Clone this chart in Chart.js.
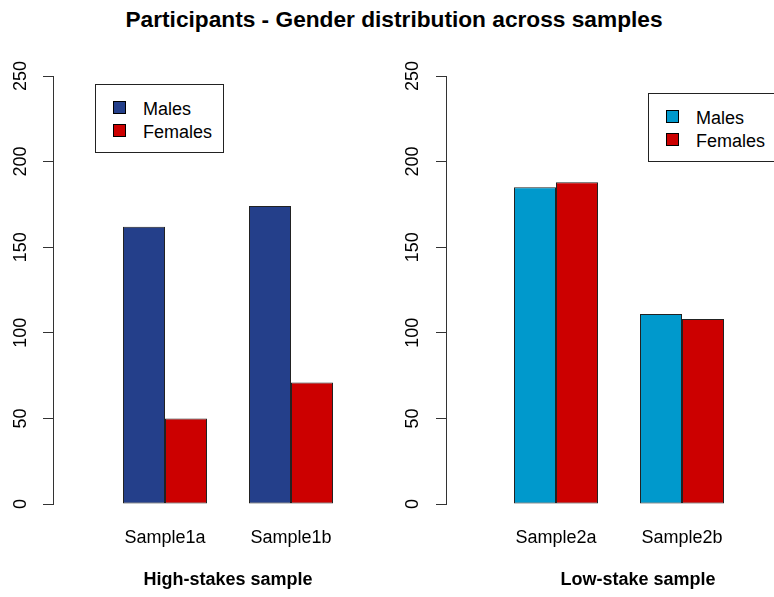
<!DOCTYPE html>
<html>
<head>
<meta charset="utf-8">
<title>Participants - Gender distribution across samples</title>
<script src="https://cdn.jsdelivr.net/npm/chart.js@4.4.1/dist/chart.umd.min.js"></script>
<style>
  html, body { margin: 0; padding: 0; background: #fff; }
  #page {
    position: relative; width: 774px; height: 597px; overflow: hidden;
    font-family: "Liberation Sans", Arial, sans-serif; color: #000;
  }
  #title {
    position: absolute; left: 0; top: 6px; width: 788px;
    text-align: center; font-weight: bold; font-size: 22.7px; line-height: 26px;
  }
  canvas { position: absolute; top: 0; }
  #leftChart { left: 0; }
  #rightChart { left: 380px; }
  .legend {
    position: absolute; box-sizing: border-box; width: 129px; height: 69px;
    border: 1px solid #222; padding: 11px 0 0 17px; background: #fff;
  }
  #legendLeft { left: 95px; top: 84px; }
  #legendRight { left: 648px; top: 93px; }
  .legend-row { display: flex; align-items: center; height: 23px; font-size: 18px; line-height: 23px; }
  .swatch { display: inline-block; box-sizing: border-box; width: 13px; height: 13px; border: 1px solid #000; margin-right: 17px; }
  .legend-text { position: relative; top: 2px; }
</style>
</head>
<body>
<div id="page">
  <div id="title">Participants - Gender distribution across samples</div>
  <canvas id="leftChart" width="390" height="597"></canvas>
  <canvas id="rightChart" width="394" height="597"></canvas>
  <div class="legend" id="legendLeft"></div>
  <div class="legend" id="legendRight"></div>
</div>
<script>
// data
const seriesNames = ['Males', 'Females'];
const highStakesSamples = ['Sample1a', 'Sample1b'];
const highStakesMales = [162, 174];
const highStakesFemales = [50, 71];
const lowStakeSamples = ['Sample2a', 'Sample2b'];
const lowStakeMales = [185, 111];
const lowStakeFemales = [188, 108];
const yTicks = [0, 50, 100, 150, 200, 250];

const femaleColor = '#CC0000';

// builds the boxed legend next to each chart from the chart's own legend items
const htmlLegend = {
  id: 'htmlLegend',
  afterUpdate(chart, args, options) {
    const box = document.getElementById(options.containerID);
    box.innerHTML = '';
    chart.options.plugins.legend.labels.generateLabels(chart).forEach(item => {
      const row = document.createElement('div');
      row.className = 'legend-row';
      const swatch = document.createElement('span');
      swatch.className = 'swatch';
      swatch.style.background = item.fillStyle;
      const text = document.createElement('span');
      text.className = 'legend-text';
      text.textContent = item.text;
      row.appendChild(swatch);
      row.appendChild(text);
      box.appendChild(row);
    });
  }
};

// moves the x axis title sideways while the axis layer is drawn,
// and puts it back before the bars (they clip to the scale edges)
const shiftXTitle = {
  id: 'shiftXTitle',
  beforeDraw(chart, args, options) {
    if (options.by) chart.scales.x.left += options.by;
  },
  beforeDatasetsDraw(chart, args, options) {
    if (options.by) chart.scales.x.left -= options.by;
  }
};

function setTicks(scale) {
  scale.ticks = yTicks.map(v => ({ value: v }));
}

function makeChart(id, samples, males, females, maleColor, xTitle, look) {
  const ctx = document.getElementById(id).getContext('2d');
  const barStyle = {
    borderColor: '#222',
    borderWidth: 1,
    borderSkipped: false,
    categoryPercentage: 2 / 3,
    barPercentage: 1
  };
  return new Chart(ctx, {
    type: 'bar',
    data: {
      labels: samples,
      datasets: [
        Object.assign({ label: seriesNames[0], data: males, backgroundColor: maleColor }, barStyle),
        Object.assign({ label: seriesNames[1], data: females, backgroundColor: femaleColor }, barStyle)
      ]
    },
    options: {
      responsive: false,
      animation: false,
      events: [],
      layout: { padding: { left: 0, right: look.padRight, top: 76, bottom: 0 } },
      plugins: {
        legend: { display: false },
        tooltip: { enabled: false },
        htmlLegend: { containerID: look.legendID },
        shiftXTitle: { by: look.titleShift }
      },
      scales: {
        x: {
          type: 'category',
          offset: true,
          grid: { display: false, drawTicks: false },
          border: { display: false },
          ticks: { color: '#000', font: { family: 'Liberation Sans', size: 18 }, padding: 23, maxRotation: 0, autoSkip: false },
          title: {
            display: true,
            text: xTitle,
            color: '#000',
            font: { family: 'Liberation Sans', size: 18, weight: 'bold' },
            padding: { top: 0, bottom: 6 }
          },
          afterFit: s => { s.height = 93; }
        },
        y: {
          position: { x: look.axisAt },
          min: 0,
          max: 250,
          afterBuildTicks: setTicks,
          grid: { drawOnChartArea: false, drawTicks: true, tickLength: 10, color: '#333', lineWidth: 1 },
          border: { display: true, color: '#333', width: 1 },
          ticks: { display: false }
        },
        yLabels: {
          position: 'left',
          min: 0,
          max: 250,
          afterBuildTicks: setTicks,
          grid: { display: false, drawTicks: false },
          border: { display: false },
          ticks: {
            color: '#000',
            font: { family: 'Liberation Sans', size: 18 },
            minRotation: 90,
            maxRotation: 90,
            crossAlign: 'center',
            autoSkip: false,
            padding: look.labelPad
          },
          afterFit: s => { s.width = look.chartLeft; s.paddingTop = 0; s.paddingBottom = 0; }
        }
      }
    },
    plugins: [htmlLegend, shiftXTitle]
  });
}

makeChart('leftChart', highStakesSamples, highStakesMales, highStakesFemales, '#243F8A', 'High-stakes sample',
  { chartLeft: 102, padRight: 36, axisAt: -0.886, labelPad: 66, titleShift: 0, legendID: 'legendLeft' });

makeChart('rightChart', lowStakeSamples, lowStakeMales, lowStakeFemales, '#0099CC', 'Low-stake sample',
  { chartLeft: 113, padRight: 29, axisAt: -0.873, labelPad: 65, titleShift: 38, legendID: 'legendRight' });
</script>
</body>
</html>
